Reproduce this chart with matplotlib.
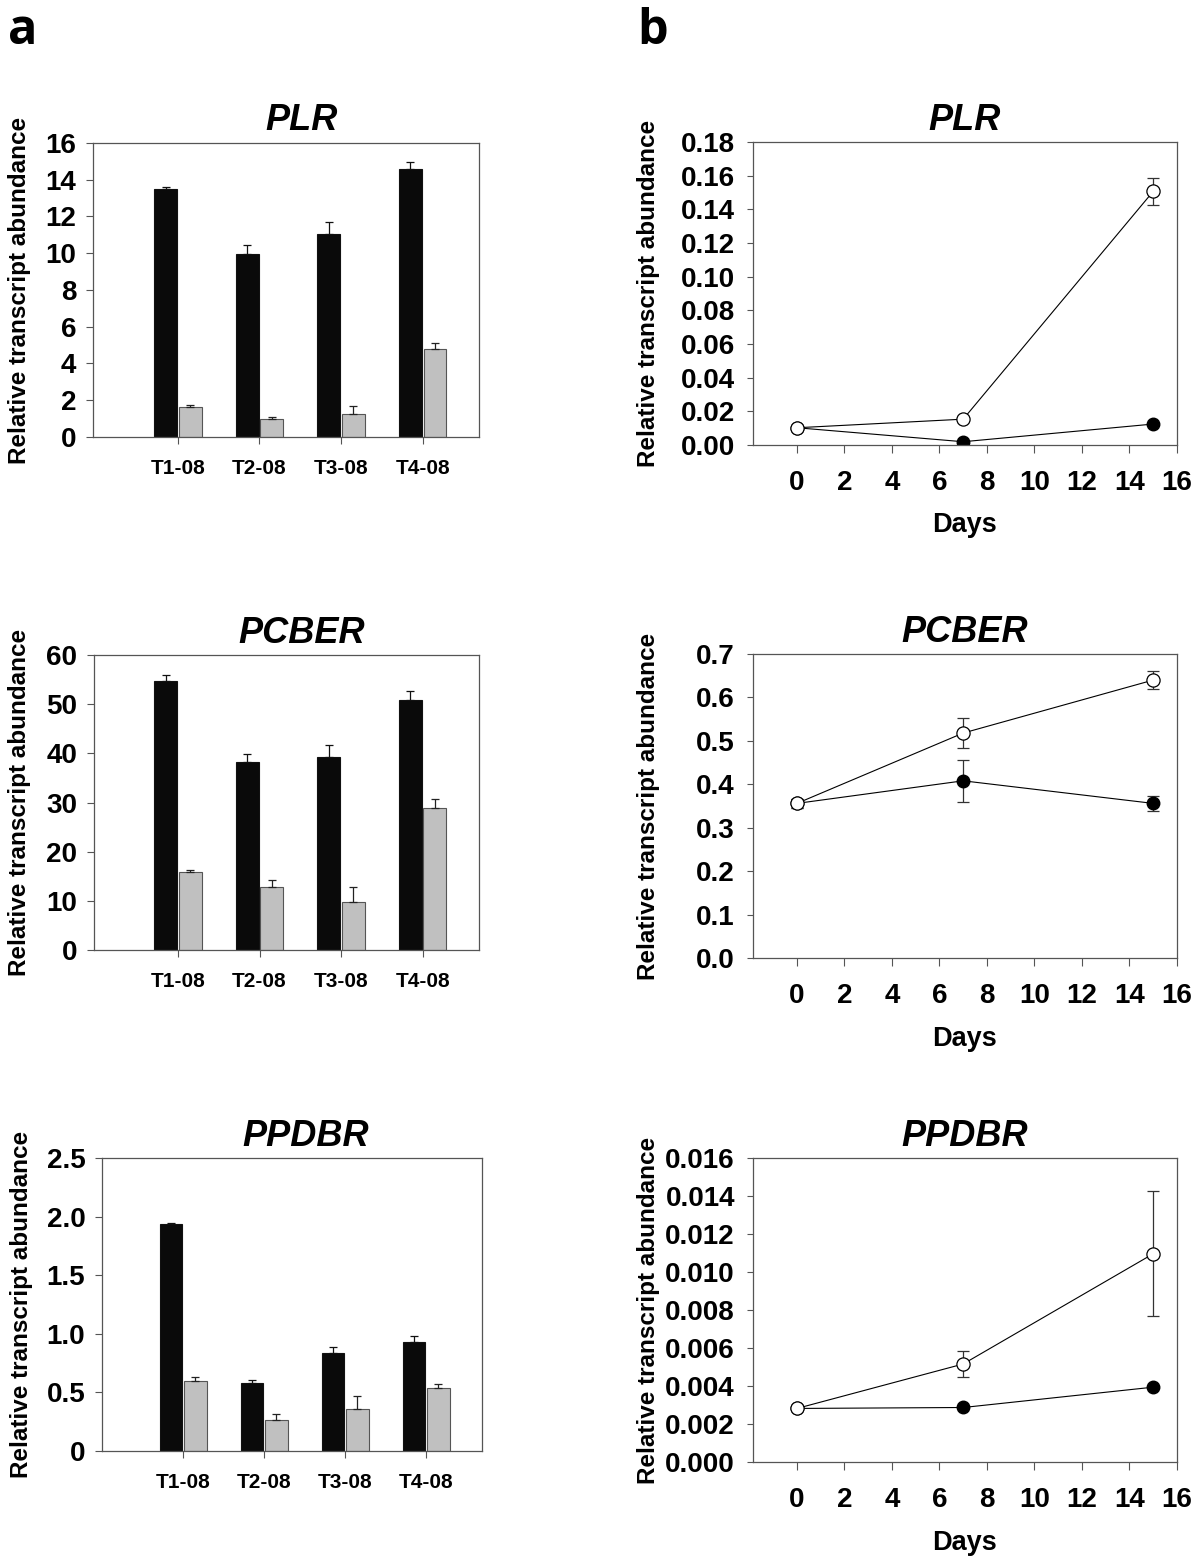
import matplotlib
matplotlib.use("Agg")
import matplotlib.pyplot as plt
from matplotlib.ticker import MultipleLocator, FormatStrFormatter

plt.rcParams['font.family'] = ['Liberation Sans', 'DejaVu Sans']
plt.rcParams['font.weight'] = 'bold'

# ---- panel a: bar charts per sample ----
samples = ['T1-08', 'T2-08', 'T3-08', 'T4-08']

plr_black = [13.5, 9.95, 11.05, 14.6]
plr_black_err = [0.13, 0.48, 0.67, 0.38]
plr_grey = [1.65, 0.96, 1.25, 4.8]
plr_grey_err = [0.07, 0.13, 0.42, 0.29]

pcber_black = [54.7, 38.2, 39.3, 50.8]
pcber_black_err = [1.2, 1.6, 2.4, 1.8]
pcber_grey = [15.85, 12.9, 9.7, 28.8]
pcber_grey_err = [0.45, 1.4, 3.1, 1.9]

ppdbr_black = [1.937, 0.584, 0.84, 0.934]
ppdbr_black_err = [0.005, 0.02, 0.05, 0.05]
ppdbr_grey = [0.601, 0.268, 0.362, 0.541]
ppdbr_grey_err = [0.031, 0.048, 0.11, 0.034]
ppdbr_ticks = [0, 0.5, 1.0, 1.5, 2.0, 2.5]
ppdbr_ticklabels = ['0', '0.5', '1.0', '1.5', '2.0', '2.5']

# ---- panel b: time course ----
days = [0, 7, 15]

plr_open = [0.0103, 0.0154, 0.1507]
plr_open_err = [0.0005, 0.0005, 0.0082]
plr_filled = [0.0103, 0.002, 0.0125]
plr_filled_err = [0.0005, 0.0003, 0.0005]

pcber_open = [0.356, 0.518, 0.640]
pcber_open_err = [0.01, 0.035, 0.02]
pcber_filled = [0.356, 0.408, 0.356]
pcber_filled_err = [0.01, 0.048, 0.018]

ppdbr_open = [0.00282, 0.00516, 0.01096]
ppdbr_open_err = [0.0001, 0.00067, 0.0033]
ppdbr_filled = [0.00282, 0.00287, 0.00394]
ppdbr_filled_err = [0.0001, 0.0001, 0.0001]

SPINE = '#555555'
YLABEL = 'Relative transcript abundance'

fig = plt.figure(figsize=(12, 15.59), dpi=100)


def style_axes(ax):
    for s in ax.spines.values():
        s.set_color(SPINE)
        s.set_linewidth(0.9)
    ax.tick_params(direction='out', colors=SPINE, width=0.8)


def bar_panel(rect, title, black, black_err, grey, grey_err, ymax, ystep,
              yfmt, xlim, title_x):
    ax = fig.add_axes(rect)
    x = list(range(1, len(samples) + 1))
    w = 0.28
    xb = [i - w / 2 - 0.01 for i in x]
    xg = [i + w / 2 + 0.01 for i in x]
    ax.bar(xb, black, width=w, color='#0a0a0a', edgecolor='#111111', linewidth=0.8)
    ax.bar(xg, grey, width=w, color='#c0c0c0', edgecolor='#555555', linewidth=0.8)
    # only the upper error bar is drawn
    ax.errorbar(xb, black, yerr=[[0] * 4, black_err], fmt='none', ecolor='#111111',
                elinewidth=0.9, capsize=3, capthick=0.9)
    ax.errorbar(xg, grey, yerr=[[0] * 4, grey_err], fmt='none', ecolor='#222222',
                elinewidth=0.9, capsize=3, capthick=0.9)
    ax.set_xlim(*xlim)
    ax.set_ylim(0, ymax)
    if isinstance(yfmt, tuple):
        ax.set_yticks(yfmt[0])
        ax.set_yticklabels(yfmt[1])
    else:
        ax.yaxis.set_major_locator(MultipleLocator(ystep))
        ax.yaxis.set_major_formatter(FormatStrFormatter(yfmt))
    ax.set_xticks(x)
    ax.set_xticklabels(samples)
    style_axes(ax)
    ax.tick_params(axis='x', length=5, pad=11, labelsize=15, labelcolor='black')
    ax.tick_params(axis='y', length=5, pad=7, labelsize=20, labelcolor='black')
    ax.set_title(title, fontsize=26, fontweight='bold', style='italic', x=title_x, pad=9)
    ax.set_ylabel(YLABEL, fontsize=17.5, fontweight='bold')
    return ax


def line_panel(rect, title, opn, opn_err, filled, filled_err, ymax, ystep, yfmt):
    ax = fig.add_axes(rect)
    ax.errorbar(days, filled, yerr=filled_err, fmt='-o', color='black', lw=0.8,
                ms=9, mfc='black', mec='black', ecolor='#333333', elinewidth=0.9,
                capsize=4, capthick=0.9, zorder=2)
    ax.errorbar(days, opn, yerr=opn_err, fmt='-o', color='black', lw=0.8,
                ms=9.5, mfc='white', mec='black', mew=0.9, ecolor='#333333',
                elinewidth=0.9, capsize=4, capthick=0.9, zorder=3)
    ax.set_xlim(-1.85, 16)
    ax.set_ylim(0, ymax)
    ax.xaxis.set_major_locator(MultipleLocator(2))
    ax.yaxis.set_major_locator(MultipleLocator(ystep))
    ax.yaxis.set_major_formatter(FormatStrFormatter(yfmt))
    style_axes(ax)
    ax.tick_params(axis='x', length=6, pad=12, labelsize=20, labelcolor='black')
    ax.tick_params(axis='y', length=4, pad=9, labelsize=20, labelcolor='black')
    ax.set_title(title, fontsize=26, fontweight='bold', style='italic', pad=9)
    ax.set_ylabel(YLABEL, fontsize=17.5, fontweight='bold')
    ax.set_xlabel('Days', fontsize=19.5, fontweight='bold', va='center')
    ax.xaxis.set_label_coords(0.5, -0.265)
    ax.yaxis.set_label_coords(-0.219, 0.5)
    return ax


ax = bar_panel([0.0775, 0.7197, 0.3217, 0.1886], 'PLR', plr_black, plr_black_err,
               plr_grey, plr_grey_err, 16, 2, '%d', (-0.04, 4.69), 0.54)
ax.yaxis.set_label_coords(-0.16, 0.5)
ax = bar_panel([0.0783, 0.3906, 0.3208, 0.1892], 'PCBER', pcber_black, pcber_black_err,
               pcber_grey, pcber_grey_err, 60, 10, '%d', (-0.03, 4.69), 0.54)
ax.yaxis.set_label_coords(-0.164, 0.5)
ax = bar_panel([0.085, 0.0693, 0.3167, 0.1879], 'PPDBR', ppdbr_black, ppdbr_black_err,
               ppdbr_grey, ppdbr_grey_err, 2.5, 0.5,
               (ppdbr_ticks, ppdbr_ticklabels), (0.0, 4.69), 0.535)
ax.yaxis.set_label_coords(-0.182, 0.5)

line_panel([0.6275, 0.7145, 0.3533, 0.1944], 'PLR', plr_open, plr_open_err,
           plr_filled, plr_filled_err, 0.18, 0.02, '%.2f')
line_panel([0.6275, 0.3855, 0.3533, 0.1950], 'PCBER', pcber_open, pcber_open_err,
           pcber_filled, pcber_filled_err, 0.7, 0.1, '%.1f')
line_panel([0.6275, 0.0622, 0.3533, 0.1950], 'PPDBR', ppdbr_open, ppdbr_open_err,
           ppdbr_filled, ppdbr_filled_err, 0.016, 0.002, '%.3f')

# panel letters
fig.text(0.007, 1 - 44 / 1559, 'a', fontsize=35, fontweight='bold',
         family=['Open Sans', 'DejaVu Sans'], va='baseline')
fig.text(0.531, 1 - 44 / 1559, 'b', fontsize=35, fontweight='bold',
         family=['Open Sans', 'DejaVu Sans'], va='baseline')

fig.savefig('out.png', dpi=100)
